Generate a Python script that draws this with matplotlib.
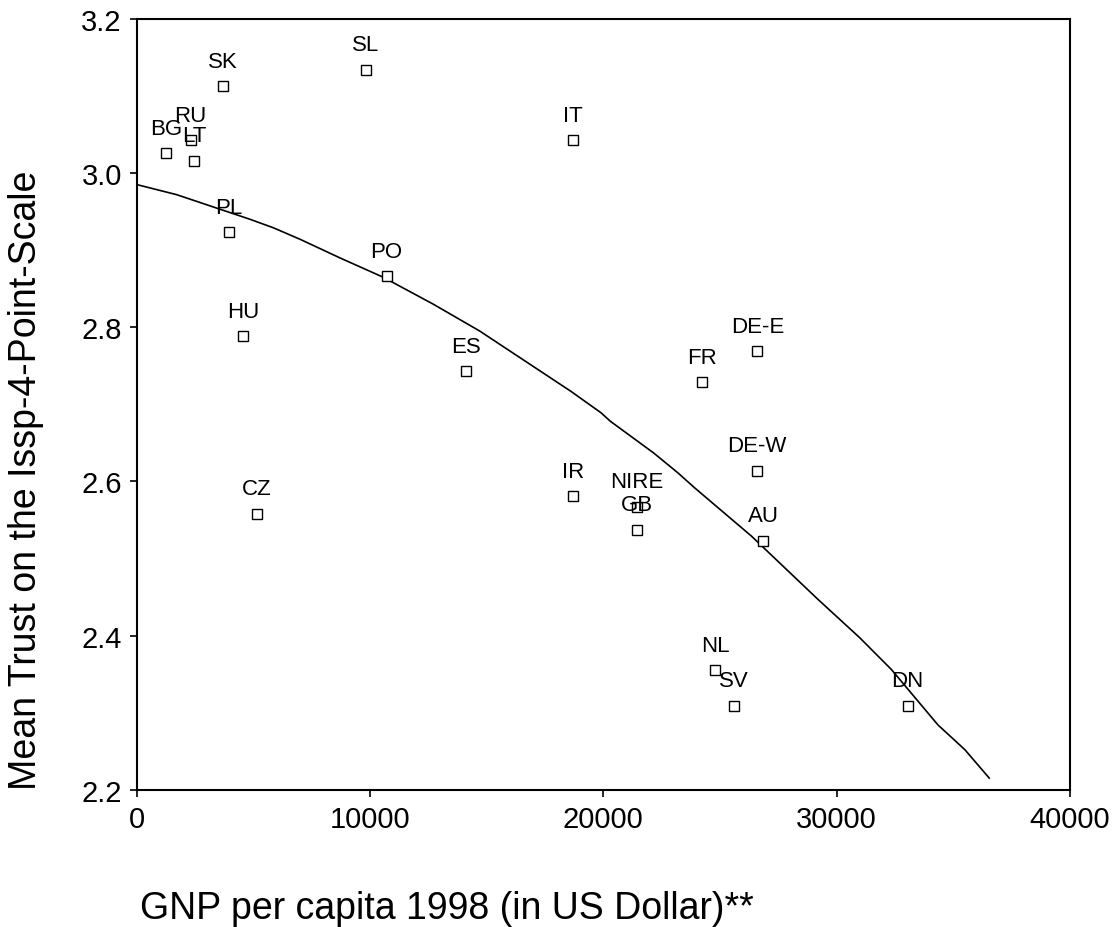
import matplotlib
matplotlib.use("Agg")
import matplotlib.pyplot as plt

plt.rcParams['font.family'] = ['Liberation Sans', 'DejaVu Sans']

# country codes, GNP per capita 1998 and mean trust
countries = ['BG', 'RU', 'LT', 'SK', 'SL', 'PL', 'HU', 'CZ', 'PO', 'ES', 'IT',
             'IR', 'NIRE', 'GB', 'FR', 'DE-E', 'DE-W', 'AU', 'NL', 'SV', 'DN']
gnp = [1250, 2300, 2450, 3700, 9800, 3950, 4550, 5150, 10700, 14100, 18700,
       18700, 21450, 21450, 24250, 26600, 26600, 26850, 24800, 25600, 33050]
trust = [3.026, 3.043, 3.016, 3.113, 3.134, 2.923, 2.788, 2.558, 2.866, 2.743, 3.043,
         2.581, 2.567, 2.537, 2.729, 2.769, 2.614, 2.523, 2.355, 2.309, 2.309]

# fitted (loess) line
fit_x = [0, 1700, 4850, 5850, 7000, 8700, 10550, 12700, 14700, 16300, 17750,
         18600, 19900, 20300, 22150, 23200, 23900, 26350, 29200, 31000, 32350,
         34350, 35500, 36550]
fit_y = [2.985, 2.972, 2.940, 2.929, 2.914, 2.890, 2.865, 2.830, 2.795, 2.763, 2.734,
         2.717, 2.689, 2.678, 2.637, 2.611, 2.592, 2.529, 2.447, 2.397, 2.356,
         2.284, 2.252, 2.215]

fig = plt.figure(figsize=(11.16, 9.28), dpi=100)
ax = fig.add_axes([0.1228, 0.148, 0.8357, 0.8305])

ax.plot(fit_x, fit_y, color='black', linewidth=1.2)
ax.plot(gnp, trust, linestyle='none', marker='s', markersize=7,
        markerfacecolor='white', markeredgecolor='black', markeredgewidth=1)

for c, x, y in zip(countries, gnp, trust):
    ax.annotate(c, (x, y), xytext=(0, 14), textcoords='offset points',
                ha='center', va='baseline', fontsize=16)

ax.set_xlim(0, 40000)
ax.set_ylim(2.2, 3.2)
ax.set_xticks([0, 10000, 20000, 30000, 40000])
ax.set_yticks([2.2, 2.4, 2.6, 2.8, 3.0, 3.2])
ax.set_yticklabels(['2.2', '2.4', '2.6', '2.8', '3.0', '3.2'])
ax.tick_params(direction='out', length=5, width=1.2, labelsize=21, pad=6)
for s in ax.spines.values():
    s.set_linewidth(1.5)

ax.set_ylabel('Mean Trust on the Issp-4-Point-Scale', fontsize=27)
ax.yaxis.set_label_coords(-0.1, 0.403)
ax.set_xlabel('GNP per capita 1998 (in US Dollar)**', fontsize=27, ha='left')
ax.xaxis.set_label_coords(0.003, -0.13)

fig.savefig('out.png', dpi=100)
